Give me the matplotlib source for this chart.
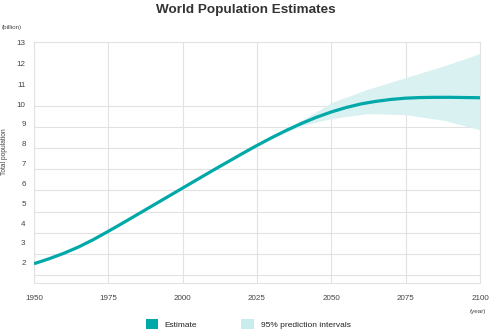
import matplotlib.pyplot as plt
from matplotlib.patches import Patch

# estimate (billion) by year
years = [1950, 1955, 1960, 1965, 1970, 1975, 1980, 1985, 1990, 1995, 2000,
         2005, 2010, 2015, 2020, 2025, 2030, 2035, 2040, 2045, 2050, 2055,
         2060, 2065, 2070, 2075, 2080, 2085, 2090, 2095, 2100]
estimate = [2.54, 2.77, 3.03, 3.33, 3.68, 4.07, 4.47, 4.88, 5.29, 5.70, 6.11,
            6.52, 6.93, 7.33, 7.73, 8.12, 8.49, 8.84, 9.16, 9.45, 9.70, 9.91,
            10.08, 10.20, 10.29, 10.35, 10.38, 10.39, 10.39, 10.38, 10.37]

# 95% prediction interval
pi_years = [2023, 2030, 2040, 2050, 2062, 2075, 2088, 2100]
pi_low = [8.04, 8.45, 9.05, 9.39, 9.62, 9.57, 9.30, 8.86]
pi_high = [8.04, 8.56, 9.30, 10.14, 10.76, 11.32, 11.88, 12.46]

x_ticks = [1950, 1975, 2000, 2025, 2050, 2075, 2100]
y_grid = [2, 3, 4, 5, 6, 7, 8, 9, 10, 11, 12, 13]
# the labels in the original sit slightly off their grid lines
y_label_pos = [2.59, 3.52, 4.46, 5.39, 6.33, 7.29, 8.19, 9.14, 10.06, 11, 12, 13]
y_labels = ["2", "3", "4", "5", "6", "7", "8", "9", "10", "11", "12", "13"]

teal = "#00a8a8"
band = "#d9f1f1"
grid_c = "#e2e2e2"
text_c = "#444444"

plt.rcParams["font.family"] = ["Liberation Sans", "DejaVu Sans"]

fig = plt.figure(figsize=(4.92, 3.35), dpi=100)
ax = fig.add_axes([34 / 492, 1 - 283 / 335, 446 / 492, 241 / 335])

ax.fill_between(pi_years, pi_low, pi_high, color=band, lw=0, zorder=1)
ax.plot(years, estimate, color=teal, lw=2.3, solid_capstyle="butt",
        solid_joinstyle="round", zorder=3)

ax.set_xlim(1950, 2100)
ax.set_ylim(1.63, 13.0)

ax.set_xticks(x_ticks)
ax.set_xticklabels([str(y) for y in x_ticks])
ax.set_yticks(y_label_pos)
ax.set_yticklabels(y_labels)
ax.set_yticks(y_grid, minor=True)
ax.tick_params(axis="both", which="both", length=0, labelsize=5.8, colors=text_c)
ax.tick_params(axis="x", pad=9)
ax.tick_params(axis="y", pad=6)

ax.grid(axis="x", which="major", color=grid_c, lw=0.8, zorder=0)
ax.grid(axis="y", which="minor", color=grid_c, lw=0.8, zorder=0)
ax.grid(axis="y", which="major", visible=False)
ax.set_axisbelow(True)
for s in ax.spines.values():
    s.set_color(grid_c)
    s.set_linewidth(0.8)

fig.text(0.5, 1 - 10 / 335, "World Population Estimates", ha="center", va="center",
         fontsize=9.7, fontweight="bold", color="#333333")
fig.text(2 / 492, 1 - 28 / 335, "(billion)", ha="left", va="center", fontsize=4.5, color=text_c)
fig.text(478 / 492, 1 - 311 / 335, "(year)", ha="center", va="center", fontsize=4.5, color=text_c)
fig.text(5 / 492, 1 - 152 / 335, "Total population", ha="center", va="center",
         rotation=90, fontsize=4.8, color=text_c)

handles = [Patch(facecolor=teal, edgecolor="none", label="Estimate"),
           Patch(facecolor="#c9eded", edgecolor="none", label="95% prediction intervals")]
fig.legend(handles=handles, loc="center", bbox_to_anchor=(248 / 492, 1 - 324 / 335),
           ncol=2, frameon=False, fontsize=6, handlelength=1.5, handleheight=1.5,
           handletextpad=0.8, columnspacing=5.3, labelcolor="#222222")

fig.savefig("out.png", dpi=100)
